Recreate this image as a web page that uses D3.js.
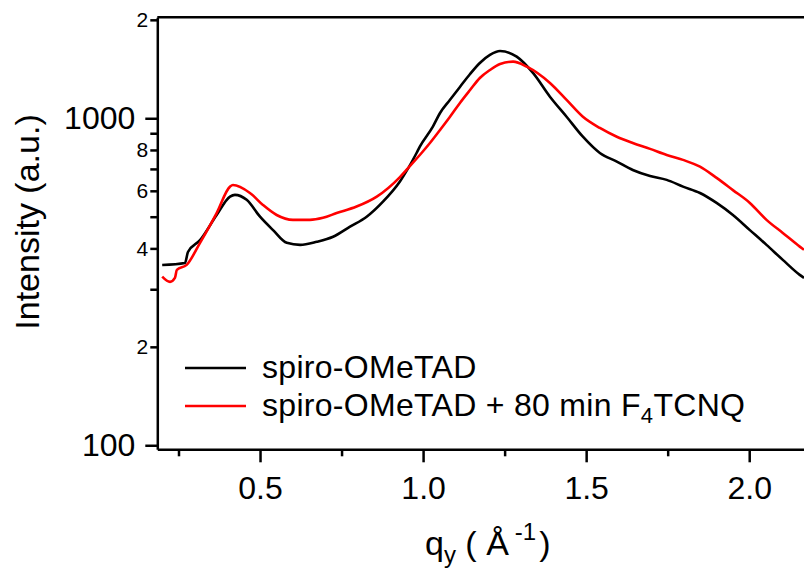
<!DOCTYPE html>
<html>
<head>
<meta charset="utf-8">
<script src="https://cdn.jsdelivr.net/npm/d3@7"></script>
<style>
  body { margin: 0; background: #fff; }
  svg text { font-family: "Liberation Sans", Arial, sans-serif; fill: #000; }
</style>
</head>
<body>
<svg id="chart" width="804" height="570"></svg>
<script>
// q_y values (1/Å) and intensities
const qBlack = [0.200, 0.270, 0.279, 0.316, 0.367, 0.408, 0.423, 0.459, 0.500, 0.540, 0.582, 0.623,
  0.674, 0.724, 0.776, 0.827, 0.877, 0.929, 0.980, 0.990, 1.030, 1.052, 1.082, 1.113, 1.144, 1.174,
  1.205, 1.236, 1.287, 1.337, 1.389, 1.440, 1.490, 1.542, 1.594, 1.643, 1.696, 1.747, 1.797, 1.849,
  1.900, 1.950, 2.002, 2.053, 2.103, 2.155, 2.168];
const iBlack = [356, 361, 390, 424, 506, 576, 583, 563, 500, 455, 416, 410,
  419, 434, 466, 500, 556, 641, 783, 819, 943, 1038, 1137, 1247, 1366, 1476,
  1562, 1606, 1543, 1376, 1164, 1011, 878, 783, 737, 695, 666, 648, 618, 591,
  551, 506, 455, 410, 369, 332, 325];

const qRed = [0.200, 0.224, 0.239, 0.245, 0.275, 0.316, 0.367, 0.408, 0.417, 0.469, 0.509, 0.551,
  0.601, 0.653, 0.693, 0.735, 0.796, 0.858, 0.929, 0.960, 0.990, 1.021, 1.052, 1.082, 1.113, 1.144,
  1.174, 1.205, 1.236, 1.276, 1.318, 1.389, 1.440, 1.490, 1.542, 1.594, 1.643, 1.696, 1.747, 1.797,
  1.849, 1.900, 1.950, 2.002, 2.053, 2.103, 2.155, 2.168];
const iRed = [328, 316, 325, 344, 356, 416, 513, 618, 625, 591, 543, 506,
  489, 489, 496, 513, 537, 576, 661, 715, 772, 840, 921, 1009, 1114, 1220,
  1328, 1405, 1466, 1490, 1438, 1282, 1138, 1011, 934, 878, 840, 806, 772, 746,
  711, 657, 603, 551, 489, 446, 405, 396];

const seriesNames = ["spiro-OMeTAD", "spiro-OMeTAD + 80 min F"];
const seriesColors = ["#000000", "#ff0000"];

const xMajor = [0.5, 1.0, 1.5, 2.0];
const xMinor = [0.25, 0.75, 1.25, 1.75];
const yMajor = [100, 1000];
const yMinorLabeled = [200, 400, 600, 800, 2000];
const yMinor = [300, 500, 700, 900];

const svg = d3.select("#chart");
const plotLeft = 157.3, plotRight = 804, plotTop = 17.3, plotBottom = 449.3;

const x = d3.scaleLinear().domain([0.185, 2.168]).range([plotLeft, plotRight]);
const y = d3.scaleLog().domain([97.2, 2036]).range([plotBottom, plotTop]);

function styleAxis(g) {
  g.selectAll("path.domain").attr("stroke", "#000").attr("stroke-width", 2.5);
  g.selectAll(".tick line").attr("stroke", "#000").attr("stroke-width", 2.5);
  g.selectAll("text").attr("font-family", "Liberation Sans, Arial, sans-serif").attr("fill", "#000");
}

// y axis
svg.append("g").attr("transform", `translate(${plotLeft},0)`)
  .call(d3.axisLeft(y).tickValues(yMajor).tickSize(12).tickSizeOuter(0).tickPadding(10)
    .tickFormat(d3.format("d")))
  .call(styleAxis)
  .call(g => g.selectAll("text").attr("font-size", 32));

svg.append("g").attr("transform", `translate(${plotLeft},0)`)
  .call(d3.axisLeft(y).tickValues(yMinorLabeled).tickSize(7).tickSizeOuter(0).tickPadding(2)
    .tickFormat(d => String(d).charAt(0)))
  .call(styleAxis)
  .call(g => g.select("path.domain").remove())
  .call(g => g.selectAll("text").attr("font-size", 21));

svg.append("g").attr("transform", `translate(${plotLeft},0)`)
  .call(d3.axisLeft(y).tickValues(yMinor).tickSize(7).tickFormat(""))
  .call(styleAxis)
  .call(g => g.select("path.domain").remove());

// x axis
svg.append("g").attr("transform", `translate(0,${plotBottom})`)
  .call(d3.axisBottom(x).tickValues(xMajor).tickSize(13).tickSizeOuter(0).tickPadding(14)
    .tickFormat(d3.format(".1f")))
  .call(styleAxis)
  .call(g => g.selectAll("text").attr("font-size", 32));

svg.append("g").attr("transform", `translate(0,${plotBottom})`)
  .call(d3.axisBottom(x).tickValues(xMinor).tickSize(7).tickFormat(""))
  .call(styleAxis)
  .call(g => g.select("path.domain").remove());

// top frame line
svg.append("line")
  .attr("x1", plotLeft).attr("x2", plotRight).attr("y1", plotTop).attr("y2", plotTop)
  .attr("stroke", "#000").attr("stroke-width", 2.5);

// clip for the curves
svg.append("clipPath").attr("id", "plotClip")
  .append("rect").attr("x", plotLeft).attr("y", plotTop)
  .attr("width", plotRight - plotLeft).attr("height", plotBottom - plotTop);

const line = d3.line()
  .x(d => x(d[0]))
  .y(d => y(d[1]))
  .curve(d3.curveMonotoneX);

const series = [
  d3.zip(qBlack, iBlack),
  d3.zip(qRed, iRed)
];

svg.append("g").attr("clip-path", "url(#plotClip)")
  .selectAll("path")
  .data(series)
  .enter().append("path")
  .attr("d", line)
  .attr("fill", "none")
  .attr("stroke", (d, i) => seriesColors[i])
  .attr("stroke-width", 2.6)
  .attr("stroke-linejoin", "round");

// legend
const legend = svg.append("g");
const legendY = [368, 406];
seriesNames.forEach((name, i) => {
  legend.append("line")
    .attr("x1", 185).attr("x2", 246)
    .attr("y1", legendY[i]).attr("y2", legendY[i])
    .attr("stroke", seriesColors[i]).attr("stroke-width", 2.5);
  const t = legend.append("text")
    .attr("x", 262).attr("y", legendY[i] + 9.5)
    .attr("font-size", 32)
    .attr("letter-spacing", 0.3)
    .text(name);
  if (i === 1) {
    t.append("tspan").attr("font-size", 22).attr("dy", 7).text("4");
    t.append("tspan").attr("dy", -7).text("TCNQ");
  }
});

// axis titles
svg.append("text")
  .attr("transform", "translate(39,222) rotate(-90)")
  .attr("text-anchor", "middle")
  .attr("font-size", 34)
  .text("Intensity (a.u.)");

const xt = svg.append("text")
  .attr("x", 425).attr("y", 555)
  .attr("font-size", 34);
xt.append("tspan").text("q");
xt.append("tspan").attr("font-size", 24).attr("dy", 8).text("y");
xt.append("tspan").attr("dy", -8).text(" (\u00a0\u00c5");
xt.append("tspan").attr("font-size", 24).attr("dy", -15).attr("dx", 6).text("-1");
xt.append("tspan").attr("dy", 15).attr("dx", 3).text(")");
</script>
</body>
</html>
